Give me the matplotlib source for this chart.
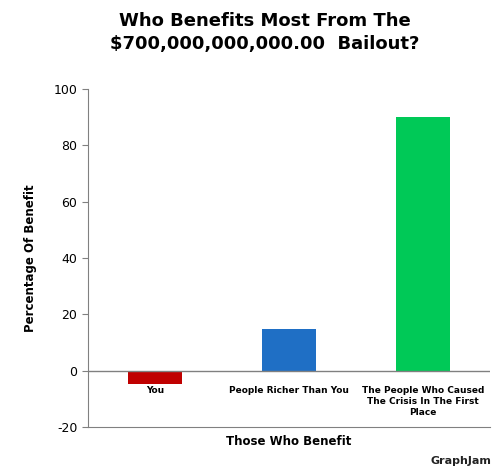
import matplotlib.pyplot as plt

categories = ["You", "People Richer Than You", "The People Who Caused\nThe Crisis In The First\nPlace"]
values = [-4.6, 14.9, 90.2]
colors = ["#c00000", "#1f6fc5", "#00c957"]
yticks = [-20, 0, 20, 40, 60, 80, 100]

fig = plt.figure(figsize=(4.99, 4.73), dpi=100, facecolor="white")
ax = fig.add_axes([0.176, 0.097, 0.806, 0.715])

x = range(len(categories))
ax.bar(x, values, width=0.4, color=colors, edgecolor="none", zorder=2)
ax.axhline(0, color="#808080", linewidth=1, zorder=3)

ax.set_xlim(-0.5, 2.5)
ax.set_ylim(-20, 100)
ax.set_yticks(yticks)
ax.set_yticklabels([str(t) for t in yticks], fontsize=9)
ax.set_xticks([])
for i, lab in enumerate(categories):
    ax.text(i, -5.5, lab, ha="center", va="top", fontsize=6.5,
            family="Liberation Sans Narrow", fontweight="bold", linespacing=1.3)

for s in ["top", "right"]:
    ax.spines[s].set_visible(False)
ax.spines["left"].set_color("#808080")
ax.spines["bottom"].set_color("#808080")
ax.tick_params(axis="y", length=4, color="#808080")

ax.set_ylabel("Percentage Of Benefit", fontsize=8.5, fontweight="bold", labelpad=12)
ax.set_xlabel("Those Who Benefit", fontsize=8.5, fontweight="bold", labelpad=6)

fig.text(0.53, 0.975, "Who Benefits Most From The\n$700,000,000,000.00  Bailout?",
         ha="center", va="top", fontsize=13, fontweight="bold", linespacing=1.4)
fig.text(0.985, 0.015, "GraphJam", ha="right", va="bottom", fontsize=8,
         fontweight="bold", color="#222222")

fig.savefig("out.png", dpi=100)
